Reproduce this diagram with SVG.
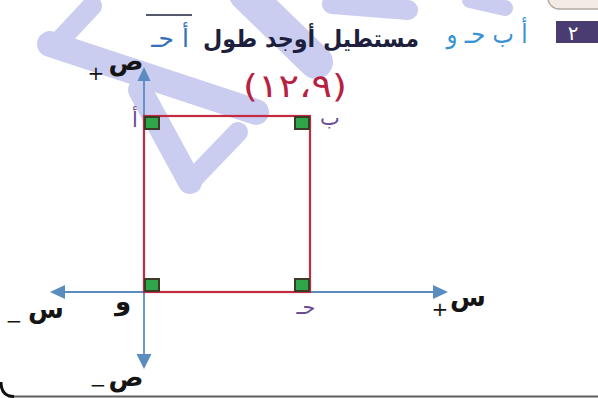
<svg xmlns="http://www.w3.org/2000/svg" width="598" height="398" viewBox="0 0 598 398">
<defs>
<style>
.wm{stroke:#cacdf0;fill:none;stroke-linecap:round}
.ax{stroke:#5b8cc0;stroke-width:1.8;fill:none}
.ah{fill:#5b8cc0}
.ar{font-family:"DejaVu Sans",sans-serif}
.lbl{font-family:"DejaVu Sans",sans-serif;font-weight:bold;fill:#141414;font-size:26px}
.sgn{font-family:"DejaVu Sans",sans-serif;fill:#141414;font-size:20px}
.vx{font-family:"DejaVu Sans",sans-serif;fill:#6a4a92;font-size:21px}
.sq{fill:#2fa64a;stroke:#3e3a28;stroke-width:2}
</style>
</defs>
<rect width="598" height="398" fill="#ffffff"/>
<g id="watermark">
<line class="wm" x1="50" y1="44" x2="256" y2="112" stroke-width="26"/>
<line class="wm" x1="62" y1="38" x2="92" y2="6" stroke-width="20"/>
<line class="wm" x1="140" y1="90" x2="190" y2="182" stroke-width="24"/>
<line class="wm" x1="238" y1="132" x2="190" y2="182" stroke-width="20"/>
<line class="wm" x1="246" y1="-6" x2="316" y2="62" stroke-width="34"/>
<line class="wm" x1="332" y1="4" x2="408" y2="10" stroke-width="20"/>
<line class="wm" x1="470" y1="0" x2="505" y2="8" stroke-width="16"/>
</g>
<g id="frame">
<rect x="548" y="-20" width="70" height="29" rx="11" fill="#f3ebe5" stroke="#b3aaa2" stroke-width="1.5"/>
<line x1="10" y1="396.5" x2="598" y2="396.5" stroke="#5e5e5e" stroke-width="2"/>
<path d="M1,382 Q1,396.5 14,396.5" fill="none" stroke="#111" stroke-width="3"/>
</g>
<g id="title">
<rect x="556" y="21" width="44" height="22" fill="#4a3c70"/>
<text class="ar" x="573" y="40" font-size="20" fill="#ffffff" text-anchor="middle">٢</text>
<text class="ar" x="487" y="43" font-size="26" fill="#3a92d4" text-anchor="middle" textLength="81" lengthAdjust="spacingAndGlyphs">أ ب حـ و</text>
<text class="ar" x="311" y="47" font-size="24" font-weight="bold" fill="#1d1f3c" text-anchor="middle" textLength="216" lengthAdjust="spacingAndGlyphs">مستطيل أوجد طول</text>
<text class="ar" x="170" y="47" font-size="25" fill="#3470b8" text-anchor="middle">أ حـ</text>
<line x1="146" y1="15" x2="192" y2="15" stroke="#1d1f3c" stroke-width="1.5"/>
</g>
<g id="connectors">
<line class="ax" x1="62" y1="292" x2="436" y2="292"/>
<path class="ah" d="M50,292 L65,285 L65,299 Z"/>
<path class="ah" d="M448,292 L433,285 L433,299 Z"/>
<line class="ax" x1="144" y1="80" x2="144" y2="356"/>
<path class="ah" d="M144,67 L137.5,81 L150.5,81 Z"/>
<path class="ah" d="M144,369 L136.5,354 L151.5,354 Z"/>
</g>
<g id="rectangle">
<rect x="144" y="116" width="166" height="176" fill="none" stroke="#c42a40" stroke-width="2.2"/>
<rect class="sq" x="145" y="117" width="14" height="12"/>
<rect class="sq" x="295" y="117" width="14" height="12"/>
<rect class="sq" x="145" y="279" width="14" height="12"/>
<rect class="sq" x="295" y="279" width="14" height="12"/>
</g>
<g id="coords">
<text class="ar" x="295" y="97" font-size="32" fill="#b82042" text-anchor="middle" textLength="104" lengthAdjust="spacingAndGlyphs">(١٢،٩)</text>
</g>
<g id="vertex-A"><text class="vx" x="135" y="127" text-anchor="middle">أ</text></g>
<g id="vertex-B"><text class="vx" x="330" y="125" text-anchor="middle" font-size="20">ب</text></g>
<g id="vertex-C"><text class="vx" x="306" y="314" text-anchor="middle">حـ</text></g>
<g id="vertex-O"><text class="lbl" x="123" y="310" text-anchor="middle" font-size="24">و</text></g>
<g id="axis-labels">
<text class="lbl"><tspan x="126" y="70" text-anchor="middle">ص</tspan><tspan class="sgn" x="96" y="80" text-anchor="middle" font-weight="normal">+</tspan></text>
<text class="lbl"><tspan x="126" y="386" text-anchor="middle">ص</tspan><tspan class="sgn" x="98" y="392" text-anchor="middle" font-weight="normal" font-size="16">−</tspan></text>
<text class="lbl"><tspan x="468" y="306" text-anchor="middle">س</tspan><tspan class="sgn" x="440" y="316" text-anchor="middle" font-weight="normal">+</tspan></text>
<text class="lbl"><tspan x="46" y="318" text-anchor="middle">س</tspan><tspan class="sgn" x="14" y="328" text-anchor="middle" font-weight="normal">−</tspan></text>
</g>
</svg>
